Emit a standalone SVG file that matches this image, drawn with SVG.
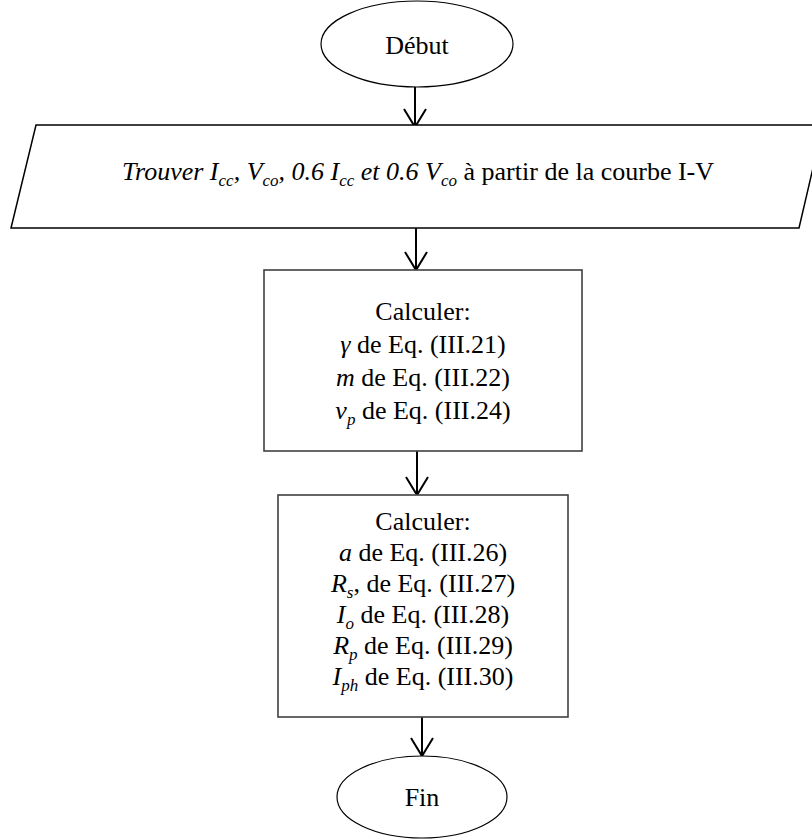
<svg xmlns="http://www.w3.org/2000/svg" width="812" height="840" viewBox="0 0 812 840">
  <style>
    .t { font-family: "Liberation Serif", "Times New Roman", serif; font-size: 26px; fill: #000; text-anchor: middle; }
    .i { font-style: italic; }
    .sub { font-size: 17px; font-style: italic; }
    .term { fill: #fff; stroke: #000; stroke-width: 1.2; }
    .io { fill: #fff; stroke: #000; stroke-width: 1.5; }
    .proc { fill: #fff; stroke: #404040; stroke-width: 1.6; }
    .conn { fill: none; stroke: #000; stroke-width: 2; marker-end: url(#arrow); }
  </style>
  <defs>
    <marker id="arrow" markerUnits="userSpaceOnUse" markerWidth="26" markerHeight="26" viewBox="-20 -13 22 26" refX="0" refY="0" orient="auto">
      <path d="M-18,-11 L0,0 L-18,11" fill="none" stroke="#000" stroke-width="2"/>
    </marker>
  </defs>

  <rect width="812" height="840" fill="#fff"/>

  <!-- connectors -->
  <g id="connectors">
    <line class="conn" x1="415" y1="87" x2="415" y2="127"/>
    <line class="conn" x1="416" y1="228" x2="416" y2="270"/>
    <line class="conn" x1="417" y1="451" x2="417" y2="495"/>
    <line class="conn" x1="422" y1="717" x2="422" y2="756"/>
  </g>

  <!-- start -->
  <g id="debut">
    <ellipse class="term" cx="417" cy="44" rx="96" ry="43"/>
    <text class="t" x="417" y="54">Début</text>
  </g>

  <!-- input: read the I-V curve -->
  <g id="trouver">
    <polygon class="io" points="36,125 823,125 799,228 11,228"/>
    <text class="t" x="418" y="180"><tspan class="i">Trouver I</tspan><tspan class="sub" dy="6">cc</tspan><tspan class="i" dy="-6">, V</tspan><tspan class="sub" dy="6">co</tspan><tspan class="i" dy="-6">, 0.6 I</tspan><tspan class="sub" dy="6">cc</tspan><tspan class="i" dy="-6"> et 0.6 V</tspan><tspan class="sub" dy="6">co</tspan><tspan dy="-6"> à partir de la courbe I-V</tspan></text>
  </g>

  <!-- first computation block -->
  <g id="calcul1">
    <rect class="proc" x="264" y="270" width="318" height="181"/>
    <text class="t" x="423" y="320">Calculer:</text>
    <text class="t" x="423" y="353"><tspan class="i">γ</tspan> de Eq. (III.21)</text>
    <text class="t" x="423" y="386"><tspan class="i">m</tspan> de Eq. (III.22)</text>
    <text class="t" x="423" y="419"><tspan class="i">ν</tspan><tspan class="sub" dy="6">p</tspan><tspan dy="-6"> de Eq. (III.24)</tspan></text>
  </g>

  <!-- second computation block -->
  <g id="calcul2">
    <rect class="proc" x="278" y="495" width="290" height="222"/>
    <text class="t" x="423" y="530">Calculer:</text>
    <text class="t" x="423" y="561"><tspan class="i">a</tspan> de Eq. (III.26)</text>
    <text class="t" x="423" y="592"><tspan class="i">R</tspan><tspan class="sub" dy="6">s</tspan><tspan dy="-6">, de Eq. (III.27)</tspan></text>
    <text class="t" x="423" y="623"><tspan class="i">I</tspan><tspan class="sub" dy="6">o</tspan><tspan dy="-6"> de Eq. (III.28)</tspan></text>
    <text class="t" x="423" y="654"><tspan class="i">R</tspan><tspan class="sub" dy="6">p</tspan><tspan dy="-6"> de Eq. (III.29)</tspan></text>
    <text class="t" x="423" y="685"><tspan class="i">I</tspan><tspan class="sub" dy="6">ph</tspan><tspan dy="-6"> de Eq. (III.30)</tspan></text>
  </g>

  <!-- end -->
  <g id="fin">
    <ellipse class="term" cx="422" cy="797" rx="85" ry="41"/>
    <text class="t" x="422" y="806">Fin</text>
  </g>
</svg>
